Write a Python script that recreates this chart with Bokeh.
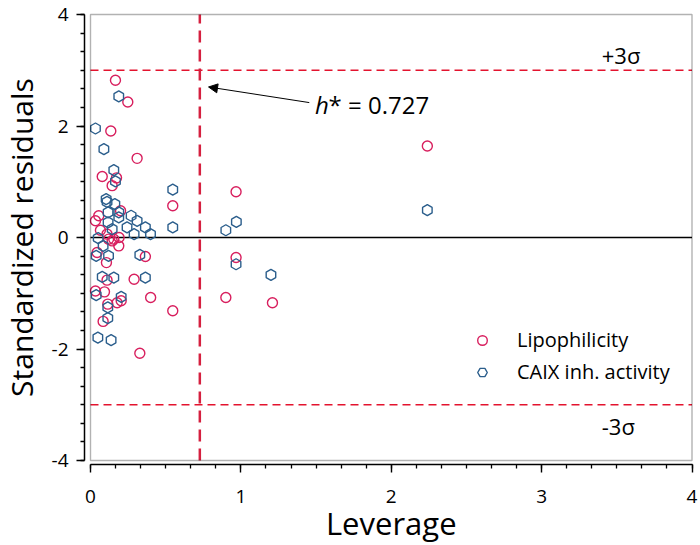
import math
from bokeh.plotting import figure
from bokeh.models import (Range1d, FixedTicker, Legend, LegendItem, Label, Arrow,
                          NormalHead, BoxAnnotation)
from bokeh.embed import file_html
from bokeh.resources import INLINE

# ---- data ----
lipo_leverage = [0.166, 0.248, 0.135, 0.310, 0.078, 0.173, 0.144, 0.547, 0.968, 2.240,
                 0.055, 0.033, 0.066, 0.110, 0.120, 0.155, 0.190, 0.144, 0.188, 0.044,
                 0.106, 0.365, 0.110, 0.290, 0.033, 0.093, 0.177, 0.204, 0.115, 0.400,
                 0.547, 0.084, 0.328, 0.900, 0.968, 1.210, 0.200]
lipo_resid = [2.82, 2.43, 1.91, 1.42, 1.095, 1.07, 0.93, 0.57, 0.82, 1.64,
              0.39, 0.30, 0.13, 0.06, -0.03, -0.03, 0.00, -0.06, -0.15, -0.27,
              -0.45, -0.34, -0.765, -0.75, -0.96, -0.975, -1.17, -1.135, -1.195, -1.075,
              -1.315, -1.505, -2.075, -1.075, -0.36, -1.17, 0.48]

caix_leverage = [0.188, 0.033, 0.089, 0.155, 0.166, 0.547, 0.547, 0.900, 0.970, 2.240,
                 0.104, 0.110, 0.162, 0.117, 0.188, 0.188, 0.270, 0.310, 0.117, 0.243,
                 0.365, 0.399, 0.290, 0.144, 0.051, 0.084, 0.038, 0.120, 0.328, 0.078,
                 0.155, 0.365, 0.038, 0.204, 0.115, 0.115, 0.049, 0.137, 0.968, 1.200]
caix_resid = [2.53, 1.955, 1.585, 1.21, 1.005, 0.86, 0.18, 0.13, 0.28, 0.49,
              0.69, 0.64, 0.60, 0.45, 0.45, 0.36, 0.39, 0.30, 0.27, 0.18,
              0.18, 0.06, 0.06, 0.15, -0.01, -0.15, -0.33, -0.33, -0.31, -0.705,
              -0.72, -0.72, -1.035, -1.065, -1.255, -1.445, -1.795, -1.84, -0.48, -0.67]

h_star = 0.727
sigma_limits = [3, -3]
sigma_labels = ["+3σ", "-3σ"]
x_ticks = [0, 1, 2, 3, 4]
y_ticks = [-4, -2, 0, 2, 4]
series_names = ["Lipophilicity", "CAIX inh. activity"]
x_title = "Leverage"
y_title = "Standardized residuals"

FONT = "Open Sans"
RED = "#D81F5E"
BLUE = "#2B5E8C"
DASH_RED = "#E3132E"

x_lo, x_hi = x_ticks[0], x_ticks[-1]
y_lo, y_hi = y_ticks[0], y_ticks[-1]

# pixel scale: x 150.375 px/unit (0 -> 90 px), y 55.75 px/unit (4 -> 14 px)
XU, YU = 150.375, 55.75
p = figure(width=700, height=545, output_backend="svg", toolbar_location=None,
           x_range=Range1d(-90 / XU, 4 + 8.5 / XU),
           y_range=Range1d(-4 - 85 / YU, 4 + 14 / YU),
           min_border_left=0, min_border_right=0, min_border_top=0, min_border_bottom=0)
p.outline_line_color = None
p.grid.visible = False
p.background_fill_color = "white"
p.border_fill_color = "white"

# plot box
p.add_layout(BoxAnnotation(left=x_lo, right=x_hi, bottom=y_lo, top=y_hi,
                           fill_color=None, line_color="black", line_width=1.4))

# zero line
p.segment(x0=[x_lo], y0=[0], x1=[x_hi], y1=[0], line_color="black", line_width=1.3)
# +/- 3 sigma
p.segment(x0=[x_lo] * 2, y0=sigma_limits, x1=[x_hi] * 2, y1=sigma_limits,
          line_color=DASH_RED, line_width=1.5, line_dash="8 5")
# warning leverage
p.segment(x0=[h_star], y0=[y_lo], x1=[h_star], y1=[y_hi],
          line_color="#D5203F", line_width=2.5, line_dash="12 7")

r_lipo = p.scatter(lipo_leverage, lipo_resid, marker="circle", size=10,
                   fill_color=None, line_color=RED, line_width=1.4)
r_caix = p.scatter(caix_leverage, caix_resid, marker="hex", size=11, angle=math.pi / 6,
                   fill_color=None, line_color=BLUE, line_width=1.4)

# annotations
for lab, yv in zip(sigma_labels, sigma_limits):
    p.add_layout(Label(x=3.40, y=yv + (0.277 if yv > 0 else -0.378), text=lab,
                       text_font=FONT, text_font_size="22px", text_baseline="middle",
                       text_align="left", text_color="black"))
p.add_layout(Label(x=1.493, y=2.38, text="h", text_font=FONT, text_font_size="24px",
                   text_font_style="italic", text_baseline="middle", text_color="black"))
p.add_layout(Label(x=1.493, y=2.38, x_offset=13.5, text="* = %.3f" % h_star, text_font=FONT,
                   text_font_size="24px", text_baseline="middle", text_color="black"))
p.add_layout(Arrow(end=NormalHead(size=9, fill_color="black", line_color="black"),
                   x_start=1.455, y_start=2.42, x_end=h_star + 0.058, y_end=2.70,
                   line_color="black", line_width=1))

# axis titles
p.add_layout(Label(x=(x_lo + x_hi) / 2, y=23, y_units="screen", text=x_title,
                   text_font=FONT, text_font_size="31px", text_align="center",
                   text_baseline="middle", text_color="black"))
p.add_layout(Label(x=21, x_units="screen", y=0, text=y_title, angle=math.pi / 2,
                   text_font=FONT, text_font_size="30px", text_align="center",
                   text_baseline="middle", text_color="black"))

# axes, detached a few pixels from the plot box
p.xaxis.fixed_location = y_lo - 4 / YU
p.yaxis.fixed_location = x_lo - 6 / XU
for ax in (p.xaxis[0], p.yaxis[0]):
    ax.major_tick_in = 0
    ax.minor_tick_in = 0
    ax.major_tick_out = 8
    ax.minor_tick_out = 4
    ax.axis_line_width = 1.5
    ax.axis_line_color = "black"
    ax.major_tick_line_width = 1.4
    ax.minor_tick_line_width = 1.3
    ax.major_tick_line_color = "black"
    ax.minor_tick_line_color = "black"
    ax.major_label_text_font = FONT
    ax.major_label_text_font_size = "19px"
    ax.major_label_text_color = "black"

p.xaxis.ticker = FixedTicker(ticks=x_ticks, minor_ticks=[i / 6 for i in range(25)])
p.yaxis.ticker = FixedTicker(ticks=y_ticks, minor_ticks=[-4 + i / 3 for i in range(25)])
p.yaxis.major_label_overrides = {v: str(v) for v in y_ticks}
p.xaxis.major_label_overrides = {v: str(v) for v in x_ticks}
p.xaxis.bounds = (x_lo, x_hi)
p.yaxis.bounds = (y_lo, y_hi)
p.xaxis.major_label_standoff = 17
p.yaxis.major_label_standoff = 8

legend = Legend(items=[LegendItem(label=series_names[0], renderers=[r_lipo]),
                       LegendItem(label=series_names[1], renderers=[r_caix])],
                location=(470, 160), glyph_width=24, glyph_height=24, label_height=24,
                spacing=5, label_standoff=23, padding=0, margin=0,
                border_line_color=None, background_fill_alpha=0,
                label_text_font=FONT, label_text_font_size="20px", label_text_color="black")
p.add_layout(legend)

open("out.html", "w").write(file_html(p, INLINE))
